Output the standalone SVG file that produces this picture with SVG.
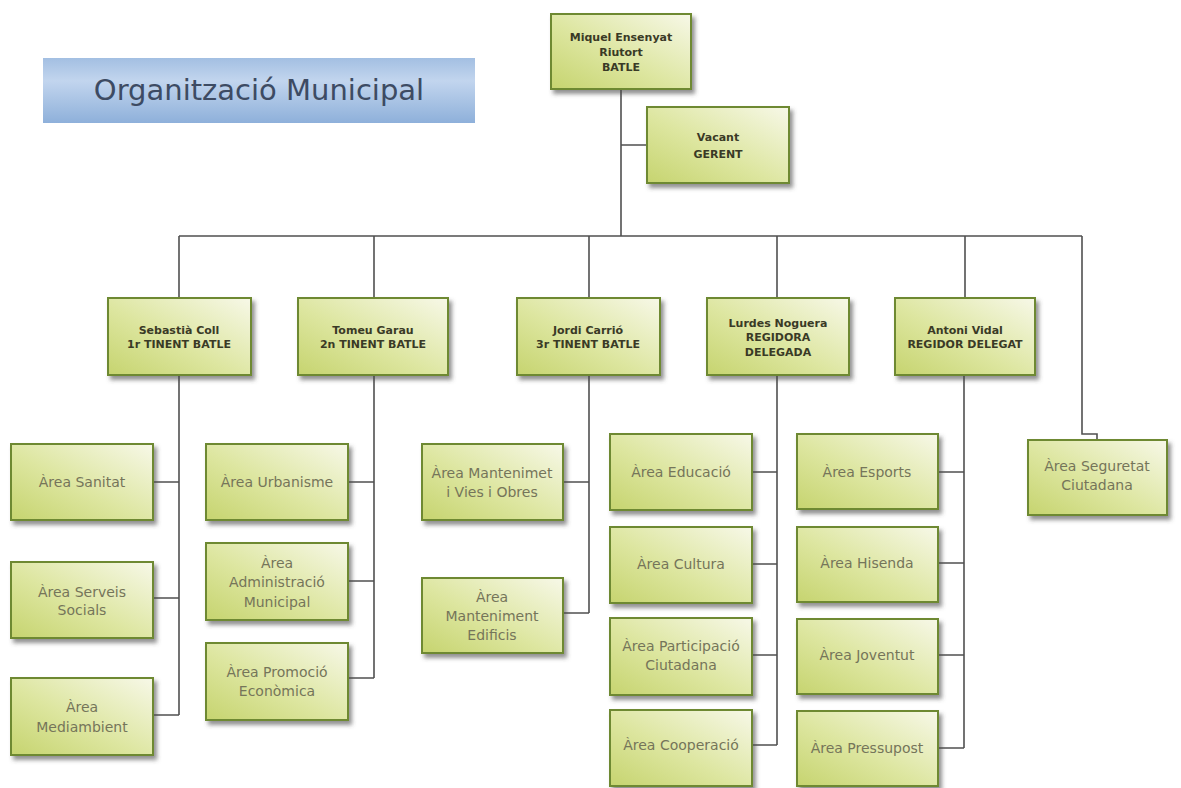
<svg xmlns="http://www.w3.org/2000/svg" width="1181" height="788" viewBox="0 0 1181 788">
<defs>
<linearGradient id="gBox" x1="0" y1="1" x2="1" y2="0">
<stop offset="0" stop-color="#c6d46f"/>
<stop offset="0.45" stop-color="#dde6a0"/>
<stop offset="1" stop-color="#f7f8e8"/>
</linearGradient>
<linearGradient id="gTitle" x1="0" y1="0" x2="0" y2="1">
<stop offset="0" stop-color="#a3bfe2"/>
<stop offset="0.35" stop-color="#c2d5ee"/>
<stop offset="1" stop-color="#8eb0da"/>
</linearGradient>
<filter id="sh" x="-10%" y="-10%" width="130%" height="140%">
<feDropShadow dx="3" dy="4" stdDeviation="2" flood-color="#4a4a4a" flood-opacity="0.6"/>
</filter>
</defs>
<style>
.box{fill:url(#gBox);stroke:#6e8930;stroke-width:2;filter:url(#sh)}
.hd{font-family:"DejaVu Sans",sans-serif;font-weight:bold;font-size:11px;fill:#3a3a26;text-anchor:middle}
.ar{font-family:"DejaVu Sans",sans-serif;font-size:14px;fill:#75755a;text-anchor:middle}
.ln{fill:none;stroke:#505050;stroke-width:1.6}
</style>
<rect width="1181" height="788" fill="#ffffff"/>

<g id="title">
<rect x="43" y="58" width="432" height="65" fill="url(#gTitle)"/>
<text x="259" y="100" font-family="DejaVu Sans, sans-serif" font-size="29" fill="#3d4b63" text-anchor="middle">Organització Municipal</text>
</g>

<g id="connectors">
<path class="ln" d="M621 90 V236 M621 145 H647"/>
<path class="ln" d="M179 236 H1082 M179 236 V298 M374 236 V298 M589 236 V298 M777 236 V298 M965 236 V298"/>
<path class="ln" d="M1082 236 V434 H1097 V440"/>
<path class="ln" d="M179 375 V715 M153 482 H179 M153 598 H179 M153 715 H179"/>
<path class="ln" d="M374 375 V678 M348 482 H374 M348 581 H374 M348 678 H374"/>
<path class="ln" d="M589 375 V613 M563 482 H589 M563 613 H589"/>
<path class="ln" d="M777 375 V745 M752 472 H777 M752 564 H777 M752 655 H777 M752 745 H777"/>
<path class="ln" d="M964 375 V748 M938 472 H964 M938 563 H964 M938 655 H964 M938 748 H964"/>
</g>

<g id="batle">
<rect class="box" x="551" y="14" width="140" height="75"/>
<text class="hd" x="621" y="41">Miquel Ensenyat</text>
<text class="hd" x="621" y="56">Riutort</text>
<text class="hd" x="621" y="71">BATLE</text>
</g>
<g id="gerent">
<rect class="box" x="647" y="107" width="142" height="76"/>
<text class="hd" x="718" y="141">Vacant</text>
<text class="hd" x="718" y="158">GERENT</text>
</g>

<g id="sebastia">
<rect class="box" x="108" y="298" width="143" height="77"/>
<text class="hd" x="179" y="334">Sebastià Coll</text>
<text class="hd" x="179" y="348">1r TINENT BATLE</text>
</g>
<g id="tomeu">
<rect class="box" x="298" y="298" width="150" height="77"/>
<text class="hd" x="373" y="334">Tomeu Garau</text>
<text class="hd" x="373" y="348">2n TINENT BATLE</text>
</g>
<g id="jordi">
<rect class="box" x="517" y="298" width="143" height="77"/>
<text class="hd" x="588" y="334">Jordi Carrió</text>
<text class="hd" x="588" y="348">3r TINENT BATLE</text>
</g>
<g id="lurdes">
<rect class="box" x="707" y="298" width="142" height="77"/>
<text class="hd" x="778" y="327">Lurdes Noguera</text>
<text class="hd" x="778" y="341">REGIDORA</text>
<text class="hd" x="778" y="356">DELEGADA</text>
</g>
<g id="antoni">
<rect class="box" x="895" y="298" width="140" height="77"/>
<text class="hd" x="965" y="334">Antoni Vidal</text>
<text class="hd" x="965" y="348">REGIDOR DELEGAT</text>
</g>

<g id="sanitat">
<rect class="box" x="11" y="444" width="142" height="76"/>
<text class="ar" x="82" y="487">Àrea Sanitat</text>
</g>
<g id="serveis">
<rect class="box" x="11" y="562" width="142" height="76"/>
<text class="ar" x="82" y="597">Àrea Serveis</text>
<text class="ar" x="82" y="615">Socials</text>
</g>
<g id="mediambient">
<rect class="box" x="11" y="678" width="142" height="77"/>
<text class="ar" x="82" y="712">Àrea</text>
<text class="ar" x="82" y="732">Mediambient</text>
</g>

<g id="urbanisme">
<rect class="box" x="206" y="444" width="142" height="76"/>
<text class="ar" x="277" y="487">Àrea Urbanisme</text>
</g>
<g id="administracio">
<rect class="box" x="206" y="543" width="142" height="77"/>
<text class="ar" x="277" y="568">Àrea</text>
<text class="ar" x="277" y="587">Administració</text>
<text class="ar" x="277" y="607">Municipal</text>
</g>
<g id="promocio">
<rect class="box" x="206" y="643" width="142" height="77"/>
<text class="ar" x="277" y="677">Àrea Promoció</text>
<text class="ar" x="277" y="696">Econòmica</text>
</g>

<g id="vies">
<rect class="box" x="422" y="444" width="141" height="76"/>
<text class="ar" x="492" y="478">Àrea Mantenimet</text>
<text class="ar" x="492" y="497">i Vies i Obres</text>
</g>
<g id="edificis">
<rect class="box" x="422" y="578" width="141" height="75"/>
<text class="ar" x="492" y="602">Àrea</text>
<text class="ar" x="492" y="621">Manteniment</text>
<text class="ar" x="492" y="640">Edificis</text>
</g>

<g id="educacio">
<rect class="box" x="610" y="434" width="142" height="76"/>
<text class="ar" x="681" y="477">Àrea Educació</text>
</g>
<g id="cultura">
<rect class="box" x="610" y="527" width="142" height="76"/>
<text class="ar" x="681" y="569">Àrea Cultura</text>
</g>
<g id="participacio">
<rect class="box" x="610" y="618" width="142" height="77"/>
<text class="ar" x="681" y="651">Àrea Participació</text>
<text class="ar" x="681" y="670">Ciutadana</text>
</g>
<g id="cooperacio">
<rect class="box" x="610" y="710" width="142" height="76"/>
<text class="ar" x="681" y="750">Àrea Cooperació</text>
</g>

<g id="esports">
<rect class="box" x="797" y="434" width="141" height="75"/>
<text class="ar" x="867" y="477">Àrea Esports</text>
</g>
<g id="hisenda">
<rect class="box" x="797" y="527" width="141" height="75"/>
<text class="ar" x="867" y="568">Àrea Hisenda</text>
</g>
<g id="joventut">
<rect class="box" x="797" y="619" width="141" height="75"/>
<text class="ar" x="867" y="660">Àrea Joventut</text>
</g>
<g id="pressupost">
<rect class="box" x="797" y="711" width="141" height="75"/>
<text class="ar" x="867" y="753">Àrea Pressupost</text>
</g>

<g id="seguretat">
<rect class="box" x="1028" y="440" width="139" height="75"/>
<text class="ar" x="1097" y="471">Àrea Seguretat</text>
<text class="ar" x="1097" y="490">Ciutadana</text>
</g>
</svg>
